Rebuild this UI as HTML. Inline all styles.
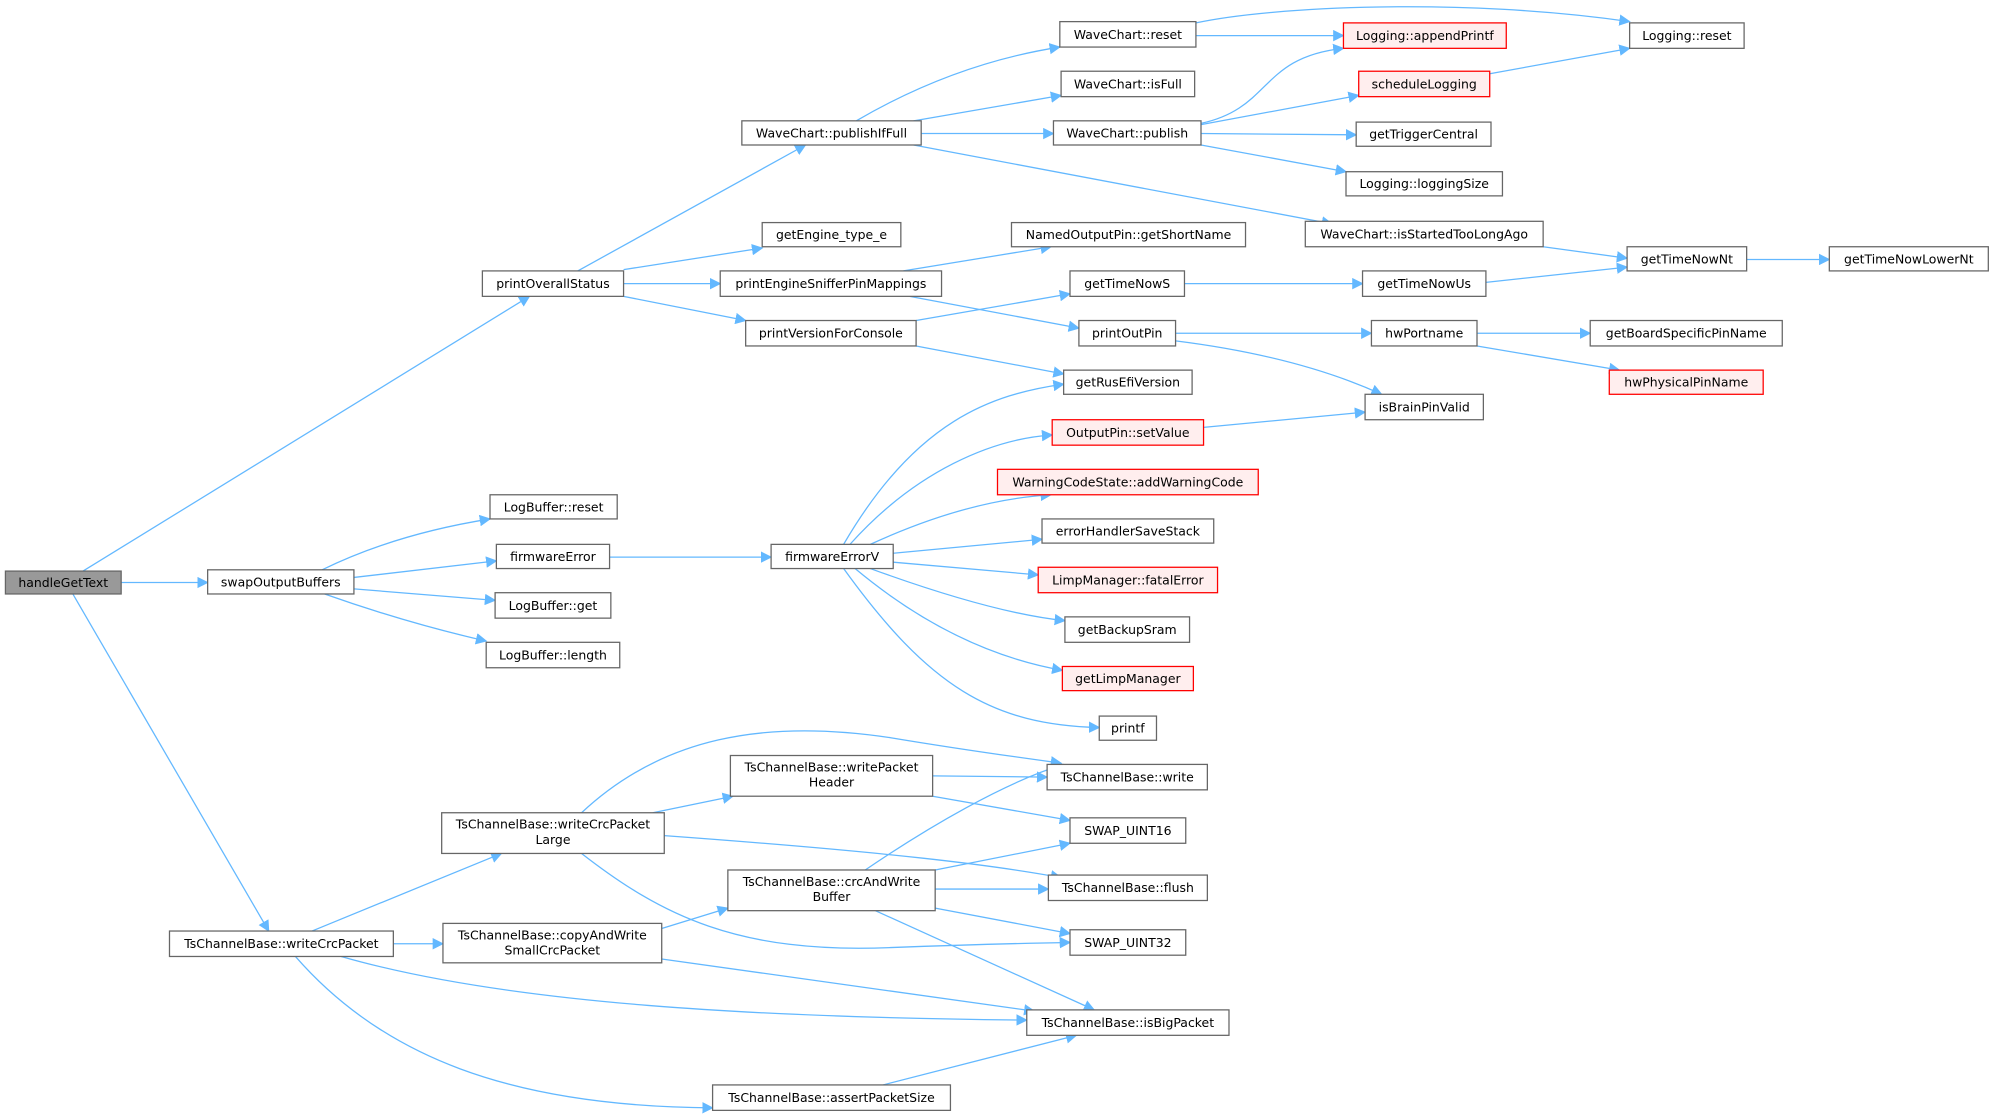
<!DOCTYPE html>
<html><head><meta charset="utf-8"><style>
html,body{margin:0;padding:0;background:#fff;}
svg{display:block;}
text{font-family:"DejaVu Sans","Liberation Sans",sans-serif;font-size:9.8px;fill:#000;}
</style></head><body>
<svg width="1995" height="1118" viewBox="0 0 1568 879" xmlns="http://www.w3.org/2000/svg">
<defs><marker id="a" viewBox="0 0 10 10" refX="9" refY="5" markerWidth="9" markerHeight="9" markerUnits="userSpaceOnUse" orient="auto"><path d="M0,0 L10,5 L0,10 z" fill="#63b8ff"/></marker></defs>
<g fill="none" stroke="#63b8ff" stroke-width="1" marker-end="url(#a)">
<path d="M65,449 L416,233"/>
<path d="M95,458 L163,458"/>
<path d="M57,467 L211,732"/>
<path d="M253,448 Q310,420 385,408"/>
<path d="M278,454 L390,441"/>
<path d="M278,463 L389,472"/>
<path d="M255,467 Q320,490 382,504"/>
<path d="M479,438 L606,438"/>
<path d="M454,213 L633,114"/>
<path d="M490,212 L599,195"/>
<path d="M490,223 L566,223"/>
<path d="M490,233 L586,252"/>
<path d="M673,95 Q750,50 833,37"/>
<path d="M718,95 L834,75"/>
<path d="M724,105 L828,105"/>
<path d="M718,114 L1047,176"/>
<path d="M940,28 L1056,28"/>
<path d="M940,18 C1000,5 1150,-2 1281,17"/>
<path d="M944,97 C1000,85 990,45 1056,38"/>
<path d="M944,98 L1068,75"/>
<path d="M944,105 L1066,106"/>
<path d="M944,114 L1058,135"/>
<path d="M1171,58 L1281,38"/>
<path d="M1213,194 L1279,203"/>
<path d="M1168,222 L1279,210"/>
<path d="M1373,204 L1438,204"/>
<path d="M710,213 L826,194"/>
<path d="M715,233 L848,258"/>
<path d="M720,252 L841,231"/>
<path d="M720,272 L836,294"/>
<path d="M931,223 L1071,223"/>
<path d="M924,262 L1078,262"/>
<path d="M924,268 Q1020,280 1086,310"/>
<path d="M1161,262 L1250,262"/>
<path d="M1161,272 L1273,291"/>
<path d="M946,336 L1073,324"/>
<path d="M663,428 C720,330 780,310 836,302"/>
<path d="M668,428 C720,370 780,345 827,342"/>
<path d="M684,428 Q760,393 826,389"/>
<path d="M702,435 L819,424"/>
<path d="M702,442 L816,452"/>
<path d="M684,447 Q780,482 837,488"/>
<path d="M672,447 Q750,512 835,527"/>
<path d="M663,447 C730,540 780,570 864,572"/>
<path d="M245,732 L394,671"/>
<path d="M309,742 L348,742"/>
<path d="M268,752 C400,790 600,800 807,802"/>
<path d="M232,752 C300,830 400,870 560,871"/>
<path d="M513,639 L576,626"/>
<path d="M457,639 C520,580 600,565 700,580 Q760,590 834,600"/>
<path d="M522,657 C700,670 780,680 834,690"/>
<path d="M457,671 C520,720 580,750 700,745 Q780,742 841,741"/>
<path d="M733,610 L823,611"/>
<path d="M733,626 L841,645"/>
<path d="M680,684 C730,650 790,615 836,601"/>
<path d="M735,684 L841,663"/>
<path d="M735,699 L824,699"/>
<path d="M735,714 L841,734"/>
<path d="M688,716 L860,794"/>
<path d="M520,730 L572,714"/>
<path d="M520,754 L813,795"/>
<path d="M694,853 L846,814"/>
</g>
<g stroke="#666" stroke-width="1" fill="#fff">
<rect x="4" y="449" width="91" height="18" fill="#999"/>
<rect x="163" y="448" width="115" height="19"/>
<rect x="379" y="213" width="111" height="20"/>
<rect x="133" y="732" width="176" height="20"/>
<rect x="385" y="389" width="100" height="19"/>
<rect x="390" y="428" width="89" height="19"/>
<rect x="389" y="466" width="91" height="20"/>
<rect x="382" y="505" width="105" height="20"/>
<rect x="606" y="428" width="96" height="19"/>
<rect x="583" y="95" width="141" height="19"/>
<rect x="599" y="175" width="109" height="19"/>
<rect x="566" y="213" width="174" height="20"/>
<rect x="586" y="252" width="134" height="20"/>
<rect x="347" y="639" width="175" height="32"/>
<rect x="348" y="726" width="172" height="31"/>
<rect x="560" y="853" width="187" height="20"/>
<rect x="574" y="594" width="159" height="32"/>
<rect x="572" y="684" width="163" height="32"/>
<rect x="833" y="17" width="107" height="20"/>
<rect x="834" y="56" width="105" height="20"/>
<rect x="828" y="95" width="116" height="19"/>
<rect x="795" y="175" width="184" height="19"/>
<rect x="841" y="213" width="90" height="20"/>
<rect x="848" y="252" width="76" height="20"/>
<rect x="836" y="291" width="101" height="19"/>
<rect x="819" y="408" width="135" height="19"/>
<rect x="837" y="485" width="98" height="20"/>
<rect x="864" y="563" width="45" height="19"/>
<rect x="823" y="601" width="126" height="20"/>
<rect x="841" y="643" width="91" height="20"/>
<rect x="824" y="688" width="125" height="20"/>
<rect x="841" y="731" width="91" height="20"/>
<rect x="807" y="794" width="159" height="20"/>
<rect x="1066" y="96" width="106" height="19"/>
<rect x="1058" y="135" width="123" height="19"/>
<rect x="1026" y="174" width="187" height="20"/>
<rect x="1071" y="213" width="97" height="20"/>
<rect x="1078" y="252" width="83" height="20"/>
<rect x="1073" y="310" width="93" height="20"/>
<rect x="1281" y="18" width="90" height="20"/>
<rect x="1279" y="194" width="94" height="19"/>
<rect x="1438" y="194" width="125" height="19"/>
<rect x="1250" y="252" width="151" height="20"/>
</g>
<g stroke="#f00" stroke-width="1" fill="#fee">
<rect x="827" y="330" width="119" height="20"/>
<rect x="784" y="369" width="205" height="20"/>
<rect x="816" y="446" width="141" height="20"/>
<rect x="835" y="524" width="103" height="19"/>
<rect x="1056" y="18" width="128" height="20"/>
<rect x="1068" y="56" width="103" height="20"/>
<rect x="1265" y="291" width="121" height="19"/>
</g>
<g text-anchor="middle">
<text x="49.5" y="461.5">handleGetText</text>
<text x="220.5" y="461">swapOutputBuffers</text>
<text x="434.5" y="226.5">printOverallStatus</text>
<text x="221" y="745.5">TsChannelBase::writeCrcPacket</text>
<text x="435" y="402">LogBuffer::reset</text>
<text x="434.5" y="441">firmwareError</text>
<text x="434.5" y="479.5">LogBuffer::get</text>
<text x="434.5" y="518.5">LogBuffer::length</text>
<text x="654" y="441">firmwareErrorV</text>
<text x="653.5" y="108">WaveChart::publishIfFull</text>
<text x="653.5" y="188">getEngine_type_e</text>
<text x="653" y="226.5">printEngineSnifferPinMappings</text>
<text x="653" y="265.5">printVersionForConsole</text>
<text x="434.5" y="651.5">TsChannelBase::writeCrcPacket</text>
<text x="434.5" y="663.5">Large</text>
<text x="434" y="738.5">TsChannelBase::copyAndWrite</text>
<text x="434" y="750.5">SmallCrcPacket</text>
<text x="653.5" y="866.5">TsChannelBase::assertPacketSize</text>
<text x="653.5" y="606.5">TsChannelBase::writePacket</text>
<text x="653.5" y="618.5">Header</text>
<text x="653.5" y="696.5">TsChannelBase::crcAndWrite</text>
<text x="653.5" y="708.5">Buffer</text>
<text x="886.5" y="30.5">WaveChart::reset</text>
<text x="886.5" y="69.5">WaveChart::isFull</text>
<text x="886" y="108">WaveChart::publish</text>
<text x="887" y="188">NamedOutputPin::getShortName</text>
<text x="886" y="226.5">getTimeNowS</text>
<text x="886" y="265.5">printOutPin</text>
<text x="886.5" y="304">getRusEfiVersion</text>
<text x="886.5" y="343.5">OutputPin::setValue</text>
<text x="886.5" y="382.5">WarningCodeState::addWarningCode</text>
<text x="886.5" y="421">errorHandlerSaveStack</text>
<text x="886.5" y="459.5">LimpManager::fatalError</text>
<text x="886" y="498.5">getBackupSram</text>
<text x="886.5" y="537">getLimpManager</text>
<text x="886.5" y="576">printf</text>
<text x="886" y="614.5">TsChannelBase::write</text>
<text x="886.5" y="656.5">SWAP_UINT16</text>
<text x="886.5" y="701.5">TsChannelBase::flush</text>
<text x="886.5" y="744.5">SWAP_UINT32</text>
<text x="886.5" y="807.5">TsChannelBase::isBigPacket</text>
<text x="1120" y="31.5">Logging::appendPrintf</text>
<text x="1119.5" y="69.5">scheduleLogging</text>
<text x="1119" y="109">getTriggerCentral</text>
<text x="1119.5" y="148">Logging::loggingSize</text>
<text x="1119.5" y="187.5">WaveChart::isStartedTooLongAgo</text>
<text x="1119.5" y="226.5">getTimeNowUs</text>
<text x="1119.5" y="265.5">hwPortname</text>
<text x="1119.5" y="323.5">isBrainPinValid</text>
<text x="1326" y="31.5">Logging::reset</text>
<text x="1326" y="207">getTimeNowNt</text>
<text x="1500.5" y="207">getTimeNowLowerNt</text>
<text x="1325.5" y="265.5">getBoardSpecificPinName</text>
<text x="1325.5" y="304">hwPhysicalPinName</text>
</g>
</svg>
</body></html>
